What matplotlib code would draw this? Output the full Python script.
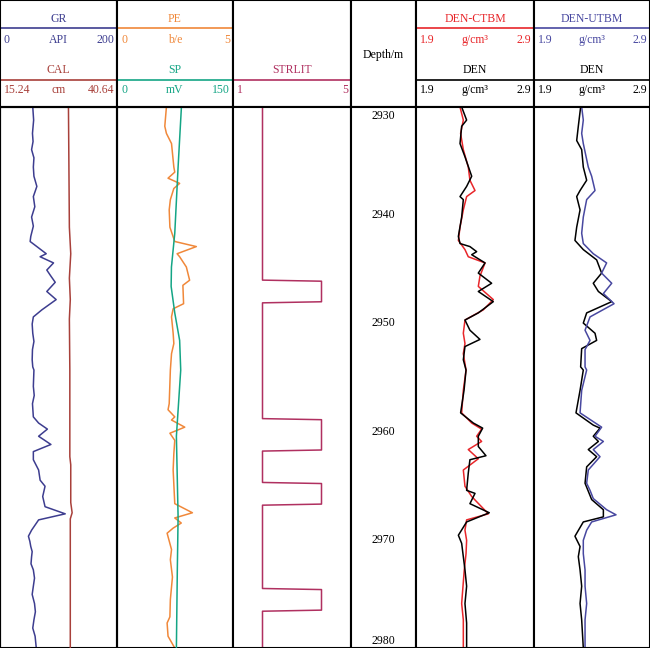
import matplotlib.pyplot as plt

plt.rcParams['font.family'] = ['Liberation Serif', 'DejaVu Serif']

# depth window (m)
top_depth, base_depth = 2930.0, 2980.0
depth_ticks = [2930, 2940, 2950, 2960, 2970, 2980]

# GR (API)
gr_depth = [2930.0, 2931.21, 2932.44, 2933.19, 2933.94, 2934.70, 2935.55, 2936.40, 2937.34, 2938.28,
            2939.22, 2940.17, 2941.01, 2941.96, 2942.43, 2942.90, 2943.56, 2943.84, 2944.41, 2945.07,
            2945.63, 2946.20, 2947.05, 2947.80, 2948.75, 2949.40, 2950.06, 2950.91, 2951.67, 2952.42,
            2953.36, 2954.02, 2954.31, 2955.82, 2956.66, 2957.42, 2958.64, 2959.21, 2959.77, 2960.43,
            2961.19, 2961.85, 2962.60, 2963.55, 2964.49, 2965.05, 2966.00, 2966.94, 2967.60, 2968.16,
            2969.11, 2969.67, 2970.14, 2970.62, 2971.09, 2971.56, 2972.22, 2972.78, 2973.54, 2974.29,
            2975.05, 2975.89, 2976.65, 2977.40, 2978.16, 2978.91, 2980.0]
gr = [56, 57.5, 55.5, 56.5, 54, 58, 57, 58, 63, 57,
      59.5, 54, 57, 52.6, 51.5, 63, 79, 68.6, 91.5, 80,
      87, 94.4, 80, 96, 71.5, 57, 55, 56, 58, 55.5,
      55, 56, 58, 57, 58.5, 55.5, 57, 66, 81, 66,
      87, 57, 57, 66, 68.6, 77, 73, 77, 111.5, 66,
      54, 48.6, 51, 52.6, 55, 54, 53, 57, 59, 57,
      55, 59, 60.5, 58, 56, 60, 62]

# CAL (cm)
cal_depth = [2930.0, 2935.45, 2941.11, 2943.56, 2945.82, 2947.80, 2949.59, 2954.31, 2962.32,
             2963.07, 2966.56, 2967.50, 2968.07, 2973.16, 2980.0]
cal = [30.1, 30.2, 30.3, 30.6, 30.3, 30.5, 30.3, 30.4, 30.4,
       30.6, 30.6, 30.9, 30.5, 30.5, 30.5]

# PE (b/e)
pe_depth = [2930.0, 2931.78, 2932.44, 2933.38, 2935.55, 2936.02, 2936.58, 2937.06, 2937.53, 2938.56,
            2939.51, 2941.11, 2942.43, 2942.90, 2943.56, 2943.84, 2944.79, 2946.01, 2946.48, 2948.18,
            2948.65, 2949.40, 2950.91, 2951.86, 2952.80, 2954.31, 2957.42, 2957.98, 2958.64, 2958.93,
            2959.59, 2960.15, 2960.81, 2962.04, 2963.55, 2966.66, 2967.50, 2967.98, 2968.45, 2968.92,
            2969.39, 2970.90, 2971.84, 2973.44, 2975.52, 2977.12, 2977.69, 2978.91, 2980.0]
pe = [2.13, 2.06, 2.13, 2.35, 2.45, 2.49, 2.2, 2.7, 2.45, 2.3,
      2.25, 2.28, 2.49, 3.42, 2.59, 2.7, 2.99, 3.13, 2.84, 2.87,
      2.42, 2.35, 2.42, 2.45, 2.35, 2.3, 2.25, 2.2, 2.49, 2.35,
      2.92, 2.28, 2.49, 2.45, 2.42, 2.49, 3.25, 2.49, 2.77, 2.42,
      2.16, 2.35, 2.3, 2.39, 2.3, 2.28, 2.16, 2.2, 2.49]

# SP (mV)
sp_depth = [2930.0, 2935.55, 2941.67, 2944.79, 2946.58, 2949.03, 2951.57, 2954.31, 2960.43,
            2967.88, 2972.78, 2980.0]
sp = [83.3, 79, 74.7, 70.4, 70, 74.7, 81, 82.4, 76.8, 79, 78, 76.8]

# STRLIT layers (top, base), value 4 inside, 2 outside
strlit_tops = [2946.0, 2958.8, 2964.7, 2974.5]
strlit_bases = [2948.0, 2961.7, 2966.7, 2976.5]

# DEN-CTBM (red) and DEN (black), track 5
ctbm_depth = [2930.0, 2931.21, 2932.44, 2933.94, 2935.55, 2936.77, 2937.72, 2938.28, 2939.51, 2941.11,
              2942.33, 2943.18, 2943.84, 2944.41, 2945.63, 2946.58, 2947.80, 2948.75, 2949.69, 2950.91,
              2951.86, 2952.80, 2954.31, 2956.19, 2958.27, 2959.21, 2959.77, 2960.43, 2960.91, 2961.66,
              2962.51, 2963.55, 2965.05, 2966.00, 2967.60, 2968.16, 2969.11, 2970.05, 2971.28, 2972.78,
              2975.89, 2977.40, 2980.0]
ctbm = [2.273, 2.301, 2.278, 2.301, 2.343, 2.357, 2.400, 2.329, 2.301, 2.273,
        2.259, 2.315, 2.343, 2.485, 2.442, 2.428, 2.555, 2.470, 2.315, 2.301,
        2.315, 2.301, 2.324, 2.301, 2.287, 2.372, 2.456, 2.414, 2.456, 2.343,
        2.428, 2.301, 2.315, 2.372, 2.513, 2.329, 2.315, 2.329, 2.324, 2.309,
        2.287, 2.301, 2.301]

den5_depth = [2930.0, 2931.21, 2931.78, 2933.38, 2934.60, 2936.40, 2937.34, 2938.28, 2938.56, 2940.17,
              2941.96, 2942.62, 2942.90, 2943.37, 2943.65, 2944.41, 2945.35, 2946.29, 2947.05, 2947.99,
              2949.03, 2949.69, 2950.63, 2951.48, 2952.14, 2953.36, 2954.31, 2956.19, 2958.27, 2959.21,
              2959.68, 2960.43, 2961.38, 2962.23, 2962.60, 2963.83, 2965.43, 2965.71, 2966.66, 2967.50,
              2968.35, 2969.58, 2970.33, 2971.56, 2972.78, 2974.29, 2975.89, 2977.69, 2980.0]
den5 = [2.287, 2.329, 2.287, 2.273, 2.315, 2.372, 2.329, 2.273, 2.301, 2.287,
        2.259, 2.273, 2.357, 2.414, 2.372, 2.485, 2.428, 2.541, 2.428, 2.555,
        2.428, 2.315, 2.357, 2.442, 2.315, 2.301, 2.324, 2.307, 2.278, 2.386,
        2.465, 2.428, 2.428, 2.493, 2.357, 2.343, 2.329, 2.400, 2.357, 2.521,
        2.329, 2.259, 2.287, 2.301, 2.315, 2.329, 2.315, 2.329, 2.329]

# DEN-UTBM (blue) and DEN (black), track 6
utbm_depth = [2930.0, 2931.21, 2932.44, 2933.38, 2935.55, 2936.40, 2937.72, 2938.56, 2940.17, 2941.67,
              2942.62, 2943.56, 2944.41, 2945.35, 2946.29, 2947.24, 2948.18, 2949.40, 2950.63, 2951.57,
              2952.42, 2954.02, 2954.31, 2956.19, 2958.27, 2959.59, 2960.43, 2960.91, 2961.66, 2962.32,
              2963.55, 2964.77, 2965.43, 2966.19, 2967.22, 2967.69, 2968.35, 2969.11, 2970.05, 2971.28,
              2972.78, 2974.29, 2975.89, 2977.40, 2980.0]
utbm = [2.311, 2.325, 2.311, 2.325, 2.368, 2.397, 2.426, 2.354, 2.325, 2.311,
        2.325, 2.411, 2.526, 2.483, 2.570, 2.498, 2.590, 2.383, 2.340, 2.383,
        2.340, 2.340, 2.354, 2.311, 2.297, 2.483, 2.426, 2.498, 2.411, 2.469,
        2.368, 2.354, 2.383, 2.411, 2.526, 2.607, 2.397, 2.354, 2.325, 2.325,
        2.340, 2.340, 2.354, 2.340, 2.340]

den6_depth = [2930.0, 2931.78, 2933.10, 2933.94, 2935.55, 2936.77, 2937.72, 2938.28, 2939.51, 2941.11,
              2942.33, 2943.18, 2944.13, 2945.35, 2946.29, 2947.05, 2947.99, 2949.03, 2949.97, 2950.91,
              2951.57, 2952.33, 2954.02, 2954.31, 2956.19, 2958.27, 2959.40, 2959.68, 2960.43, 2960.91,
              2961.66, 2962.32, 2963.26, 2964.77, 2966.28, 2967.22, 2967.88, 2968.35, 2969.67, 2970.62,
              2971.56, 2972.78, 2974.29, 2975.89, 2977.40, 2980.0]
den6 = [2.302, 2.282, 2.268, 2.311, 2.325, 2.354, 2.297, 2.268, 2.297, 2.268,
        2.253, 2.325, 2.440, 2.483, 2.411, 2.455, 2.570, 2.354, 2.325, 2.426,
        2.440, 2.311, 2.302, 2.325, 2.297, 2.262, 2.411, 2.469, 2.411, 2.455,
        2.368, 2.440, 2.354, 2.340, 2.397, 2.498, 2.498, 2.325, 2.253, 2.297,
        2.282, 2.297, 2.311, 2.297, 2.311, 2.325]

c_gr = '#3d3d8f'
c_cal = '#a8403a'
c_pe = '#f0883a'
c_sp = '#14a585'
c_str = '#b03060'
c_ctbm = '#e8262a'
c_utbm = '#4848a0'

W, H = 650, 648
HEAD = 107
edges = [0, 117, 233, 351, 416, 534, 650]
fs = 8.5
lw = 1.1

fig = plt.figure(figsize=(6.5, 6.48), dpi=100)


def frame(ax):
    ax.set_xticks([])
    ax.set_yticks([])
    for s in ax.spines.values():
        s.set_linewidth(1.5)
        s.set_color('black')


def head_axes(i):
    x0, x1 = edges[i], edges[i + 1]
    ax = fig.add_axes([x0 / W, 1 - HEAD / H, (x1 - x0) / W, HEAD / H])
    ax.set_xlim(0, x1 - x0)
    ax.set_ylim(HEAD, 0)
    frame(ax)
    return ax


def data_axes(i, lo, hi):
    x0, x1 = edges[i], edges[i + 1]
    ax = fig.add_axes([x0 / W, 0, (x1 - x0) / W, 1 - HEAD / H])
    ax.set_xlim(lo, hi)
    ax.set_ylim(base_depth, top_depth)
    frame(ax)
    return ax


def head_row(ax, row, name, unit, lo, hi, color):
    w = ax.get_xlim()[1]
    yn, yl, ys = (19, 28, 40) if row == 0 else (70, 80, 90)
    ax.text(w / 2, yn, name, color=color, ha='center', va='center', fontsize=fs)
    ax.plot([0, w], [yl, yl], color=color, lw=1.2)
    ax.text(4, ys, lo, color=color, ha='left', va='center', fontsize=fs)
    ax.text(w / 2, ys, unit, color=color, ha='center', va='center', fontsize=fs)
    ax.text(w - 3, ys, hi, color=color, ha='right', va='center', fontsize=fs)


# headers
h = head_axes(0)
head_row(h, 0, 'GR', 'API', '0', '200', c_gr)
head_row(h, 1, 'CAL', 'cm', '15.24', '40.64', c_cal)
h = head_axes(1)
head_row(h, 0, 'PE', 'b/e', '0', '5', c_pe)
head_row(h, 1, 'SP', 'mV', '0', '150', c_sp)
h = head_axes(2)
head_row(h, 1, 'STRLIT', '', '1', '5', c_str)
h = head_axes(3)
h.text(32.5, 55, 'Depth/m', ha='center', va='center', fontsize=fs)
h = head_axes(4)
head_row(h, 0, 'DEN-CTBM', 'g/cm³', '1.9', '2.9', c_ctbm)
head_row(h, 1, 'DEN', 'g/cm³', '1.9', '2.9', 'black')
h = head_axes(5)
head_row(h, 0, 'DEN-UTBM', 'g/cm³', '1.9', '2.9', c_utbm)
head_row(h, 1, 'DEN', 'g/cm³', '1.9', '2.9', 'black')

# track 1: GR + CAL
ax = data_axes(0, 0, 200)
ax.plot(gr, gr_depth, color=c_gr, lw=lw)
ax2 = ax.twiny()
ax2.set_xlim(15.24, 40.64)
ax2.set_xticks([])
ax2.plot(cal, cal_depth, color=c_cal, lw=lw)

# track 2: PE + SP
ax = data_axes(1, 0, 5)
ax.plot(pe, pe_depth, color=c_pe, lw=lw)
ax2 = ax.twiny()
ax2.set_xlim(0, 150)
ax2.set_xticks([])
ax2.plot(sp, sp_depth, color=c_sp, lw=lw)

# track 3: STRLIT step curve
sd, sv = [top_depth], [2]
for t, b in zip(strlit_tops, strlit_bases):
    sd += [t, t + 0.1, b, b + 0.1]
    sv += [2, 4, 4, 2]
sd.append(base_depth)
sv.append(2)
ax = data_axes(2, 1, 5)
ax.plot(sv, sd, color=c_str, lw=lw)

# track 4: depth labels (end labels kept inside the track)
ax = data_axes(3, 0, 1)
tr = ax.get_yaxis_transform()
for d in depth_ticks:
    if d == top_depth:
        va, dy = 'top', -2
    elif d == base_depth:
        va, dy = 'bottom', 1
    else:
        va, dy = 'center', 0
    ax.annotate(str(d), (0.5, d), xycoords=tr, xytext=(0, dy), textcoords='offset points',
                ha='center', va=va, fontsize=fs)

# track 5 and 6: densities
ax = data_axes(4, 1.9, 2.9)
ax.plot(ctbm, ctbm_depth, color=c_ctbm, lw=lw)
ax.plot(den5, den5_depth, color='black', lw=lw)

ax = data_axes(5, 1.9, 2.9)
ax.plot(den6, den6_depth, color='black', lw=lw)
ax.plot(utbm, utbm_depth, color=c_utbm, lw=lw)

fig.savefig('out.png', dpi=100)
